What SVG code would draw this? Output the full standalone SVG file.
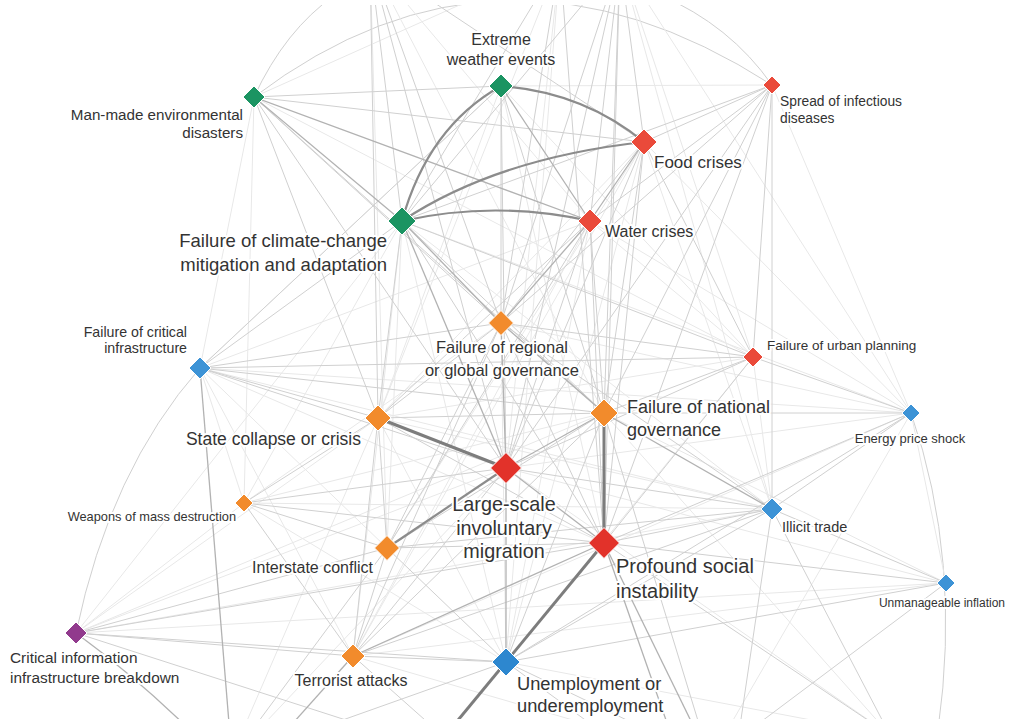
<svg xmlns="http://www.w3.org/2000/svg" width="1010" height="719" viewBox="0 0 1010 719">
<style>
.e0{stroke:#e8e8e8;stroke-width:1;fill:none}
.e1{stroke:#d0d0d0;stroke-width:1;fill:none}
.e2{stroke:#b2b2b2;stroke-width:1.3;fill:none}
.e3{stroke:#8c8c8c;stroke-width:2.2;fill:none}
.e4{stroke:#7d7d7d;stroke-width:3;fill:none}
.n{stroke:#fff;stroke-width:1}
.g{fill:#1b9462}.r{fill:#ea4a3a}.o{fill:#f28b2c}.b{fill:#3d93d6}.d{fill:#e2322a}.p{fill:#913a8d}
text{font-family:"Liberation Sans",Arial,sans-serif;fill:#333;paint-order:stroke;stroke:#fff;stroke-width:4px;stroke-linejoin:round}
</style>
<rect width="1010" height="719" fill="#fff"/>
<g id="connectors">
<path class="e1" d="M254,97 Q285,30 335,-5"/>
<path class="e1" d="M772,85 Q730,25 660,-5"/>
<path class="e1" d="M254,97 Q500,-90 772,85"/>
<path class="e1" d="M911,413 Q962,560 938,730"/>
<path class="e1" d="M200,368 Q110,470 76,633"/>
<line class="e0" x1="501" y1="86" x2="772" y2="85"/>
<line class="e0" x1="501" y1="86" x2="753" y2="357"/>
<line class="e0" x1="501" y1="86" x2="200" y2="368"/>
<line class="e0" x1="501" y1="86" x2="378" y2="418"/>
<line class="e0" x1="501" y1="86" x2="604" y2="543"/>
<line class="e0" x1="644" y1="142" x2="378" y2="418"/>
<line class="e0" x1="644" y1="142" x2="387" y2="548"/>
<line class="e0" x1="644" y1="142" x2="353" y2="656"/>
<line class="e0" x1="644" y1="142" x2="506" y2="662"/>
<line class="e0" x1="644" y1="142" x2="911" y2="413"/>
<line class="e0" x1="644" y1="142" x2="772" y2="509"/>
<line class="e0" x1="590" y1="221" x2="753" y2="357"/>
<line class="e0" x1="590" y1="221" x2="200" y2="368"/>
<line class="e0" x1="590" y1="221" x2="911" y2="413"/>
<line class="e0" x1="590" y1="221" x2="353" y2="656"/>
<line class="e0" x1="590" y1="221" x2="506" y2="662"/>
<line class="e0" x1="402" y1="221" x2="244" y2="503"/>
<line class="e0" x1="402" y1="221" x2="387" y2="548"/>
<line class="e0" x1="402" y1="221" x2="506" y2="662"/>
<line class="e0" x1="402" y1="221" x2="353" y2="656"/>
<line class="e0" x1="402" y1="221" x2="76" y2="633"/>
<line class="e0" x1="402" y1="221" x2="911" y2="413"/>
<line class="e0" x1="402" y1="221" x2="772" y2="509"/>
<line class="e0" x1="501" y1="323" x2="506" y2="662"/>
<line class="e0" x1="501" y1="323" x2="244" y2="503"/>
<line class="e0" x1="501" y1="323" x2="911" y2="413"/>
<line class="e0" x1="200" y1="368" x2="604" y2="543"/>
<line class="e0" x1="200" y1="368" x2="772" y2="509"/>
<line class="e0" x1="200" y1="368" x2="911" y2="413"/>
<line class="e0" x1="200" y1="368" x2="244" y2="503"/>
<line class="e0" x1="200" y1="368" x2="353" y2="656"/>
<line class="e0" x1="200" y1="368" x2="387" y2="548"/>
<line class="e0" x1="200" y1="368" x2="254" y2="97"/>
<line class="e0" x1="753" y1="357" x2="378" y2="418"/>
<line class="e0" x1="753" y1="357" x2="772" y2="509"/>
<line class="e0" x1="753" y1="357" x2="506" y2="662"/>
<line class="e0" x1="753" y1="357" x2="254" y2="97"/>
<line class="e0" x1="911" y1="413" x2="946" y2="583"/>
<line class="e0" x1="911" y1="413" x2="506" y2="468"/>
<line class="e0" x1="911" y1="413" x2="353" y2="656"/>
<line class="e0" x1="911" y1="413" x2="710" y2="760"/>
<line class="e0" x1="911" y1="413" x2="772" y2="85"/>
<line class="e0" x1="378" y1="418" x2="772" y2="509"/>
<line class="e0" x1="378" y1="418" x2="506" y2="662"/>
<line class="e0" x1="378" y1="418" x2="76" y2="633"/>
<line class="e0" x1="378" y1="418" x2="230" y2="760"/>
<line class="e0" x1="604" y1="413" x2="244" y2="503"/>
<line class="e0" x1="604" y1="413" x2="946" y2="583"/>
<line class="e0" x1="604" y1="413" x2="76" y2="633"/>
<line class="e0" x1="506" y1="468" x2="946" y2="583"/>
<line class="e0" x1="506" y1="468" x2="76" y2="633"/>
<line class="e0" x1="506" y1="468" x2="230" y2="760"/>
<line class="e0" x1="244" y1="503" x2="772" y2="509"/>
<line class="e0" x1="244" y1="503" x2="506" y2="662"/>
<line class="e0" x1="244" y1="503" x2="76" y2="633"/>
<line class="e0" x1="244" y1="503" x2="254" y2="97"/>
<line class="e0" x1="772" y1="509" x2="76" y2="633"/>
<line class="e0" x1="946" y1="583" x2="353" y2="656"/>
<line class="e0" x1="946" y1="583" x2="76" y2="633"/>
<line class="e0" x1="353" y1="656" x2="710" y2="760"/>
<line class="e0" x1="370" y1="-40" x2="590" y2="221"/>
<line class="e0" x1="370" y1="-40" x2="604" y2="413"/>
<line class="e0" x1="370" y1="-40" x2="387" y2="548"/>
<line class="e0" x1="560" y1="-40" x2="378" y2="418"/>
<line class="e0" x1="560" y1="-40" x2="254" y2="97"/>
<line class="e0" x1="560" y1="-40" x2="506" y2="468"/>
<line class="e0" x1="560" y1="-40" x2="506" y2="662"/>
<line class="e0" x1="620" y1="-40" x2="753" y2="357"/>
<line class="e0" x1="620" y1="-40" x2="911" y2="413"/>
<line class="e0" x1="620" y1="-40" x2="772" y2="509"/>
<line class="e0" x1="890" y1="735" x2="506" y2="468"/>
<line class="e0" x1="890" y1="735" x2="604" y2="413"/>
<line class="e0" x1="890" y1="735" x2="506" y2="662"/>
<line class="e1" x1="501" y1="86" x2="501" y2="323"/>
<line class="e1" x1="254" y1="97" x2="501" y2="86"/>
<line class="e1" x1="501" y1="86" x2="506" y2="468"/>
<line class="e1" x1="501" y1="86" x2="604" y2="413"/>
<line class="e1" x1="644" y1="142" x2="772" y2="85"/>
<line class="e1" x1="644" y1="142" x2="254" y2="97"/>
<line class="e1" x1="644" y1="142" x2="501" y2="323"/>
<line class="e1" x1="644" y1="142" x2="506" y2="468"/>
<line class="e1" x1="644" y1="142" x2="604" y2="413"/>
<line class="e1" x1="644" y1="142" x2="604" y2="543"/>
<line class="e1" x1="644" y1="142" x2="753" y2="357"/>
<line class="e1" x1="590" y1="221" x2="506" y2="468"/>
<line class="e1" x1="590" y1="221" x2="604" y2="413"/>
<line class="e1" x1="590" y1="221" x2="378" y2="418"/>
<line class="e1" x1="590" y1="221" x2="387" y2="548"/>
<line class="e1" x1="590" y1="221" x2="604" y2="543"/>
<line class="e1" x1="590" y1="221" x2="772" y2="85"/>
<line class="e1" x1="402" y1="221" x2="772" y2="85"/>
<line class="e1" x1="402" y1="221" x2="200" y2="368"/>
<line class="e1" x1="402" y1="221" x2="378" y2="418"/>
<line class="e1" x1="402" y1="221" x2="604" y2="413"/>
<line class="e1" x1="402" y1="221" x2="604" y2="543"/>
<line class="e1" x1="402" y1="221" x2="753" y2="357"/>
<line class="e1" x1="501" y1="323" x2="378" y2="418"/>
<line class="e1" x1="501" y1="323" x2="604" y2="543"/>
<line class="e1" x1="501" y1="323" x2="387" y2="548"/>
<line class="e1" x1="501" y1="323" x2="353" y2="656"/>
<line class="e1" x1="501" y1="323" x2="200" y2="368"/>
<line class="e1" x1="501" y1="323" x2="753" y2="357"/>
<line class="e1" x1="501" y1="323" x2="772" y2="509"/>
<line class="e1" x1="501" y1="323" x2="772" y2="85"/>
<line class="e1" x1="501" y1="323" x2="254" y2="97"/>
<line class="e1" x1="200" y1="368" x2="378" y2="418"/>
<line class="e1" x1="200" y1="368" x2="753" y2="357"/>
<line class="e1" x1="200" y1="368" x2="506" y2="468"/>
<line class="e1" x1="200" y1="368" x2="604" y2="413"/>
<line class="e1" x1="200" y1="368" x2="501" y2="86"/>
<line class="e1" x1="753" y1="357" x2="604" y2="413"/>
<line class="e1" x1="753" y1="357" x2="911" y2="413"/>
<line class="e1" x1="753" y1="357" x2="772" y2="85"/>
<line class="e1" x1="753" y1="357" x2="506" y2="468"/>
<line class="e1" x1="753" y1="357" x2="604" y2="543"/>
<line class="e1" x1="911" y1="413" x2="604" y2="413"/>
<line class="e1" x1="911" y1="413" x2="772" y2="509"/>
<line class="e1" x1="911" y1="413" x2="604" y2="543"/>
<line class="e1" x1="911" y1="413" x2="506" y2="662"/>
<line class="e1" x1="378" y1="418" x2="604" y2="413"/>
<line class="e1" x1="378" y1="418" x2="387" y2="548"/>
<line class="e1" x1="378" y1="418" x2="353" y2="656"/>
<line class="e1" x1="378" y1="418" x2="244" y2="503"/>
<line class="e1" x1="378" y1="418" x2="604" y2="543"/>
<line class="e1" x1="378" y1="418" x2="254" y2="97"/>
<line class="e1" x1="604" y1="413" x2="387" y2="548"/>
<line class="e1" x1="604" y1="413" x2="353" y2="656"/>
<line class="e1" x1="604" y1="413" x2="506" y2="662"/>
<line class="e1" x1="604" y1="413" x2="772" y2="85"/>
<line class="e1" x1="604" y1="413" x2="254" y2="97"/>
<line class="e1" x1="604" y1="413" x2="710" y2="760"/>
<line class="e1" x1="506" y1="468" x2="353" y2="656"/>
<line class="e1" x1="506" y1="468" x2="244" y2="503"/>
<line class="e1" x1="506" y1="468" x2="772" y2="509"/>
<line class="e1" x1="506" y1="468" x2="772" y2="85"/>
<line class="e1" x1="506" y1="468" x2="254" y2="97"/>
<line class="e1" x1="244" y1="503" x2="387" y2="548"/>
<line class="e1" x1="244" y1="503" x2="353" y2="656"/>
<line class="e1" x1="244" y1="503" x2="604" y2="543"/>
<line class="e1" x1="772" y1="509" x2="604" y2="543"/>
<line class="e1" x1="772" y1="509" x2="946" y2="583"/>
<line class="e1" x1="772" y1="509" x2="353" y2="656"/>
<line class="e1" x1="772" y1="509" x2="387" y2="548"/>
<line class="e1" x1="772" y1="509" x2="506" y2="662"/>
<line class="e1" x1="772" y1="509" x2="735" y2="760"/>
<line class="e1" x1="772" y1="509" x2="772" y2="85"/>
<line class="e1" x1="772" y1="509" x2="890" y2="735"/>
<line class="e1" x1="387" y1="548" x2="604" y2="543"/>
<line class="e1" x1="387" y1="548" x2="353" y2="656"/>
<line class="e1" x1="387" y1="548" x2="506" y2="662"/>
<line class="e1" x1="387" y1="548" x2="76" y2="633"/>
<line class="e1" x1="387" y1="548" x2="230" y2="760"/>
<line class="e1" x1="604" y1="543" x2="946" y2="583"/>
<line class="e1" x1="604" y1="543" x2="76" y2="633"/>
<line class="e1" x1="604" y1="543" x2="772" y2="85"/>
<line class="e1" x1="604" y1="543" x2="890" y2="735"/>
<line class="e1" x1="946" y1="583" x2="506" y2="662"/>
<line class="e1" x1="946" y1="583" x2="710" y2="760"/>
<line class="e1" x1="76" y1="633" x2="353" y2="656"/>
<line class="e1" x1="76" y1="633" x2="506" y2="662"/>
<line class="e1" x1="76" y1="633" x2="470" y2="760"/>
<line class="e1" x1="353" y1="656" x2="506" y2="662"/>
<line class="e1" x1="353" y1="656" x2="470" y2="760"/>
<line class="e1" x1="506" y1="662" x2="710" y2="760"/>
<line class="e1" x1="506" y1="662" x2="230" y2="760"/>
<line class="e1" x1="506" y1="662" x2="640" y2="760"/>
<line class="e1" x1="370" y1="-40" x2="402" y2="221"/>
<line class="e1" x1="370" y1="-40" x2="501" y2="323"/>
<line class="e1" x1="370" y1="-40" x2="506" y2="468"/>
<line class="e1" x1="370" y1="-40" x2="378" y2="418"/>
<line class="e1" x1="370" y1="-40" x2="644" y2="142"/>
<line class="e1" x1="560" y1="-40" x2="402" y2="221"/>
<line class="e1" x1="560" y1="-40" x2="501" y2="323"/>
<line class="e1" x1="560" y1="-40" x2="604" y2="543"/>
<line class="e1" x1="620" y1="-40" x2="644" y2="142"/>
<line class="e1" x1="620" y1="-40" x2="590" y2="221"/>
<line class="e1" x1="620" y1="-40" x2="604" y2="413"/>
<line class="e1" x1="620" y1="-40" x2="604" y2="543"/>
<line class="e1" x1="620" y1="-40" x2="501" y2="323"/>
<line class="e1" x1="620" y1="-40" x2="506" y2="468"/>
<line class="e1" x1="620" y1="-40" x2="402" y2="221"/>
<line class="e2" x1="644" y1="142" x2="590" y2="221"/>
<line class="e2" x1="590" y1="221" x2="501" y2="323"/>
<line class="e2" x1="590" y1="221" x2="254" y2="97"/>
<line class="e2" x1="590" y1="221" x2="501" y2="86"/>
<line class="e2" x1="402" y1="221" x2="501" y2="323"/>
<line class="e2" x1="402" y1="221" x2="506" y2="468"/>
<line class="e2" x1="402" y1="221" x2="254" y2="97"/>
<line class="e2" x1="501" y1="323" x2="604" y2="413"/>
<line class="e2" x1="501" y1="323" x2="506" y2="468"/>
<line class="e2" x1="200" y1="368" x2="232" y2="760"/>
<line class="e2" x1="604" y1="413" x2="506" y2="468"/>
<line class="e2" x1="604" y1="413" x2="772" y2="509"/>
<line class="e2" x1="506" y1="468" x2="604" y2="543"/>
<line class="e2" x1="506" y1="468" x2="506" y2="662"/>
<line class="e2" x1="604" y1="543" x2="353" y2="656"/>
<line class="e2" x1="604" y1="543" x2="710" y2="760"/>
<line class="e2" x1="604" y1="543" x2="680" y2="760"/>
<line class="e2" x1="353" y1="656" x2="260" y2="760"/>
<path class="e2" stroke-width="1.8" d="M76,633 Q140,680 200,740"/>
<path class="e3" d="M501,86 Q583,92 644,142"/>
<path class="e3" d="M501,86 Q428,127 402,221"/>
<path class="e3" d="M402,221 Q497,158 644,142"/>
<path class="e3" d="M402,221 Q495,200 590,221"/>
<line class="e3" x1="506" y1="468" x2="387" y2="548"/>
<line class="e4" x1="378" y1="418" x2="506" y2="468"/>
<line class="e4" x1="604" y1="413" x2="604" y2="543"/>
<line class="e4" x1="604" y1="543" x2="440" y2="742"/>
</g>
<rect x="0" y="0" width="1010" height="5" fill="#fff"/>
<g id="n-extreme-weather"><polygon class="n g" points="501,74 513,86 501,98 489,86"/><text x="501" y="45" font-size="16" text-anchor="middle">Extreme</text><text x="501" y="65" font-size="16" text-anchor="middle">weather events</text></g>
<g id="n-man-made"><polygon class="n g" points="254,86 265,97 254,108 243,97"/><text x="243" y="120" font-size="15.2" text-anchor="end">Man-made environmental</text><text x="243" y="138" font-size="15.2" text-anchor="end">disasters</text></g>
<g id="n-infectious"><polygon class="n r" points="772,76 781,85 772,94 763,85"/><text x="780" y="106" font-size="13.8">Spread of infectious</text><text x="780" y="123" font-size="13.8">diseases</text></g>
<g id="n-food"><polygon class="n r" points="644,129 657,142 644,155 631,142"/><text x="654" y="168" font-size="17">Food crises</text></g>
<g id="n-water"><polygon class="n r" points="590,209 602,221 590,233 578,221"/><text x="605" y="237" font-size="16">Water crises</text></g>
<g id="n-climate"><polygon class="n g" points="402,207 416,221 402,235 388,221"/><text x="387" y="247" font-size="18.5" text-anchor="end">Failure of climate-change</text><text x="387" y="271" font-size="18.5" text-anchor="end">mitigation and adaptation</text></g>
<g id="n-regional-gov"><polygon class="n o" points="501,310.5 513.5,323 501,335.5 488.5,323"/><text x="502" y="353" font-size="16.5" text-anchor="middle">Failure of regional</text><text x="502" y="376" font-size="16.5" text-anchor="middle">or global governance</text></g>
<g id="n-critical-infra"><polygon class="n b" points="200,357 211,368 200,379 189,368"/><text x="187" y="337" font-size="14.2" text-anchor="end">Failure of critical</text><text x="187" y="353" font-size="14.2" text-anchor="end">infrastructure</text></g>
<g id="n-urban"><polygon class="n r" points="753,347 763,357 753,367 743,357"/><text x="767" y="350" font-size="13.5">Failure of urban planning</text></g>
<g id="n-energy"><polygon class="n b" points="911,404 920,413 911,422 902,413"/><text x="910" y="443" font-size="13" text-anchor="middle">Energy price shock</text></g>
<g id="n-state-collapse"><polygon class="n o" points="378,405 391,418 378,431 365,418"/><text x="361" y="445" font-size="17.5" text-anchor="end">State collapse or crisis</text></g>
<g id="n-national-gov"><polygon class="n o" points="604,399 618,413 604,427 590,413"/><text x="627" y="413" font-size="18">Failure of national</text><text x="627" y="436" font-size="18">governance</text></g>
<g id="n-migration"><polygon class="n d" points="506,452.5 521.5,468 506,483.5 490.5,468"/><text x="504" y="511" font-size="19.8" text-anchor="middle">Large-scale</text><text x="504" y="535" font-size="19.8" text-anchor="middle">involuntary</text><text x="504" y="558" font-size="19.8" text-anchor="middle">migration</text></g>
<g id="n-wmd"><polygon class="n o" points="244,494 253,503 244,512 235,503"/><text x="236" y="521" font-size="12.8" text-anchor="end">Weapons of mass destruction</text></g>
<g id="n-illicit"><polygon class="n b" points="772,498 783,509 772,520 761,509"/><text x="782" y="532" font-size="14.5">Illicit trade</text></g>
<g id="n-interstate"><polygon class="n o" points="387,535.5 399.5,548 387,560.5 374.5,548"/><text x="373" y="573" font-size="16" text-anchor="end">Interstate conflict</text></g>
<g id="n-social"><polygon class="n d" points="604,527.5 619.5,543 604,558.5 588.5,543"/><text x="616" y="573" font-size="20">Profound social</text><text x="616" y="598" font-size="20">instability</text></g>
<g id="n-inflation"><polygon class="n b" points="946,574 955,583 946,592 937,583"/><text x="942" y="607" font-size="12" text-anchor="middle">Unmanageable inflation</text></g>
<g id="n-cii"><polygon class="n p" points="76,622 87,633 76,644 65,633"/><text x="10" y="663" font-size="15.4">Critical information</text><text x="10" y="683" font-size="15.4">infrastructure breakdown</text></g>
<g id="n-terrorist"><polygon class="n o" points="353,644 365,656 353,668 341,656"/><text x="351" y="686" font-size="16" text-anchor="middle">Terrorist attacks</text></g>
<g id="n-unemployment"><polygon class="n" fill="#2d87cf" points="506,648 520,662 506,676 492,662"/><text x="517" y="690" font-size="18.3">Unemployment or</text><text x="517" y="712" font-size="18.3">underemployment</text></g>
</svg>
